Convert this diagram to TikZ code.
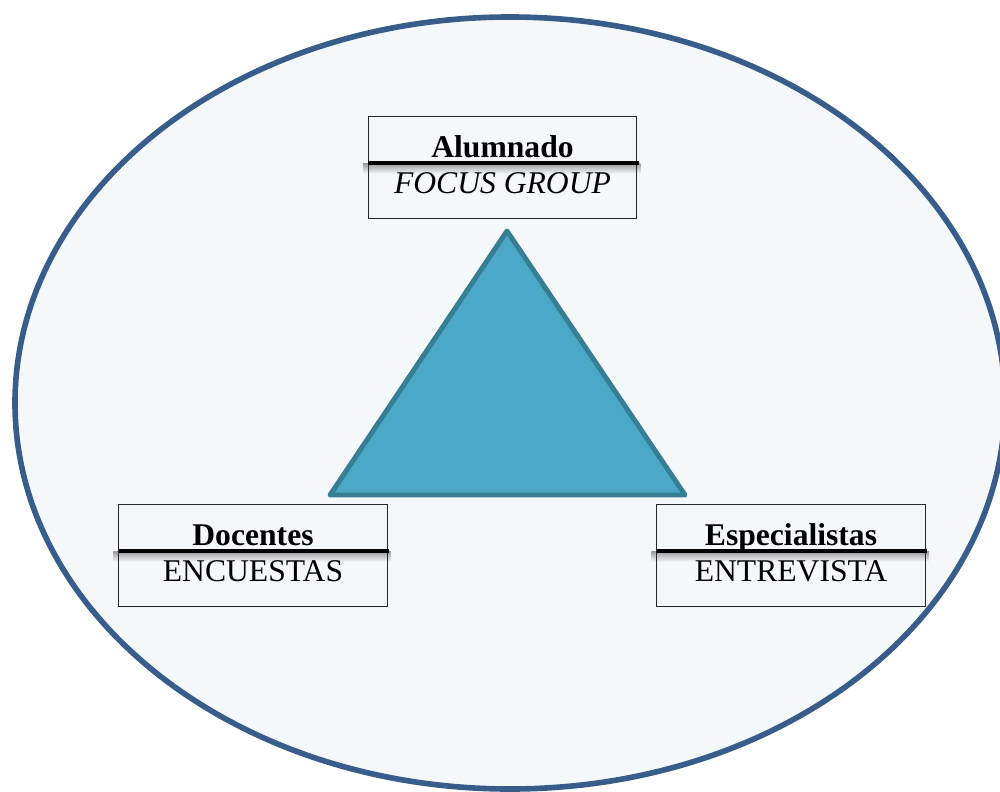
\documentclass[tikz,border=0pt]{standalone}
\usepackage{fontspec}
\setmainfont{Liberation Serif}
\definecolor{ellfill}{HTML}{F4F8FB}
\definecolor{elldraw}{HTML}{385D8A}
\definecolor{trifill}{HTML}{4BA8C6}
\definecolor{tridraw}{HTML}{367E94}
\tikzset{
  box/.style={minimum width=5.36cm, minimum height=2.02cm, inner sep=0pt},
  boxline/.style={draw=black!85, line width=0.6pt},
  head/.style={anchor=base, font=\fontsize{18}{21}\selectfont\bfseries},
  sub/.style={anchor=base, font=\fontsize{18}{21}\selectfont},
  rule/.style={line width=2.3pt, black},
}
\begin{document}
\begin{tikzpicture}[x=0.02cm,y=-0.02cm]
\useasboundingbox (0,0) rectangle (1000,791);
\begin{scope}
\clip (0,0) rectangle (1000,791);
\draw[fill=ellfill, draw=elldraw, line width=3.2pt] (510,403) ellipse [x radius=495, y radius=386];
\end{scope}
% triangle
\draw[fill=trifill, draw=tridraw, line width=2.8pt, line join=round] (507,231) -- (685,495) -- (330,495) -- cycle;
% boxes
\node[box] (alum) at (502.5,167.5) {};
\node[box] (doc) at (253,555.5) {};
\node[box] (esp) at (791,555.5) {};
% shadows, outlines and rules
\foreach \b in {alum,doc,esp}{
  \shade[top color=black!40, bottom color=ellfill] ([xshift=-3pt,yshift=-0.93cm]\b.north west) rectangle ([xshift=2pt,yshift=-1.14cm]\b.north east);
  \draw[boxline] (\b.north west) rectangle (\b.south east);
  \draw[rule] ([yshift=-0.92cm]\b.north west) -- ([xshift=1pt,yshift=-0.92cm]\b.north east);
}
% texts
\node[head] (alumT) at (502.5,157) {Alumnado};
\node[sub, font=\fontsize{18}{21}\selectfont\itshape] (alumS) at (502.5,193) {FOCUS GROUP};
\node[head] (docT) at (253,545) {Docentes};
\node[sub] (docS) at (253,581) {ENCUESTAS};
\node[head] (espT) at (791,545) {Especialistas};
\node[sub] (espS) at (791,581) {ENTREVISTA};
\end{tikzpicture}
\end{document}
